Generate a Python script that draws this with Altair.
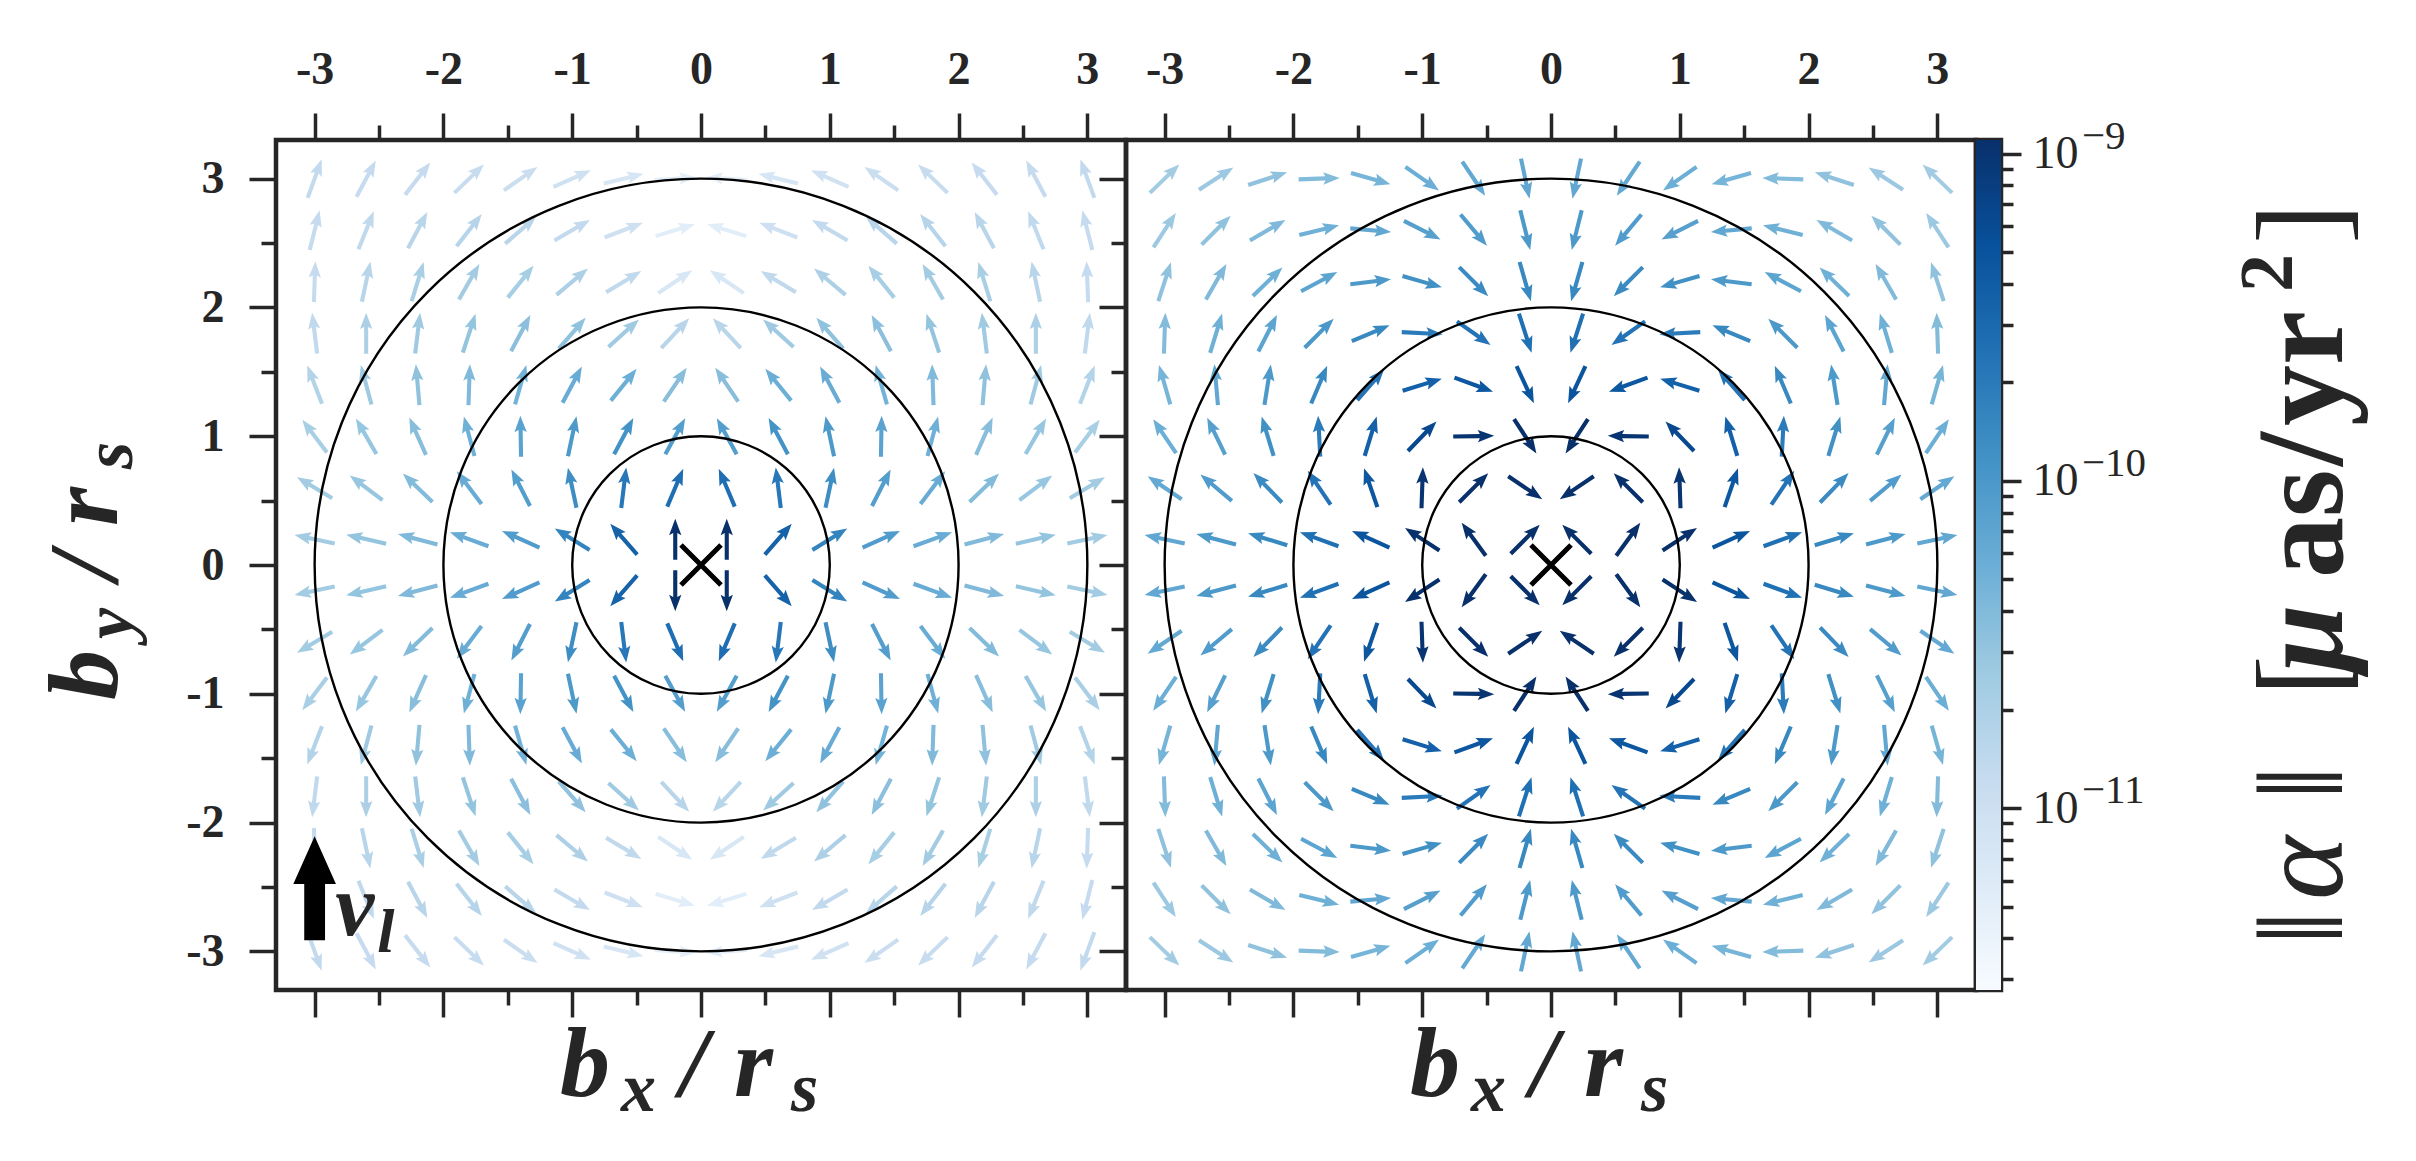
import altair as alt
import numpy as np
import pandas as pd

# ---------------- data ----------------
x_vals = [-3.0, -2.6, -2.2, -1.8, -1.4, -1.0, -0.6, -0.2, 0.2, 0.6, 1.0, 1.4, 1.8, 2.2, 2.6, 3.0]
y_vals = [3.0, 2.6, 2.2, 1.8, 1.4, 1.0, 0.6, 0.2, -0.2, -0.6, -1.0, -1.4, -1.8, -2.2, -2.6, -3.0]

# arrow direction, degrees counter-clockwise from +x (rows follow y_vals, columns x_vals)
left_angle = [
    [70, 62, 52, 44, 35, 24, 14, 4, 176, 166, 156, 145, 136, 128, 118, 110],
    [76, 68, 62, 52, 41, 30, 21, 17, 163, 159, 150, 139, 128, 118, 112, 104],
    [88, 78, 73, 60, 51, 40, 31, 34, 146, 149, 140, 129, 120, 107, 102, 92],
    [97, 90, 83, 72, 62, 49, 42, 47, 133, 138, 131, 118, 108, 97, 90, 83],
    [111, 105, 95, 88, 74, 62, 51, 56, 124, 129, 118, 106, 92, 85, 75, 69],
    [127, 120, 114, 105, 91, 78, 62, 61, 119, 118, 102, 89, 75, 66, 60, 53],
    [149, 143, 136, 127, 117, 102, 83, 67, 113, 97, 78, 63, 53, 44, 37, 31],
    [168, 167, 165, 160, 156, 148, 131, 90, 90, 49, 32, 24, 20, 15, 13, 12],
    [-168, -167, -165, -160, -156, -148, -131, -90, -90, -49, -32, -24, -20, -15, -13, -12],
    [-149, -143, -136, -127, -117, -102, -83, -67, -113, -97, -78, -63, -53, -44, -37, -31],
    [-127, -120, -114, -105, -91, -78, -62, -61, -119, -118, -102, -89, -75, -66, -60, -53],
    [-111, -105, -95, -88, -74, -62, -51, -56, -124, -129, -118, -106, -92, -85, -75, -69],
    [-97, -90, -83, -72, -62, -49, -42, -47, -133, -138, -131, -118, -108, -97, -90, -83],
    [-88, -78, -73, -60, -51, -40, -31, -34, -146, -149, -140, -129, -120, -107, -102, -92],
    [-76, -68, -62, -52, -41, -30, -21, -17, -163, -159, -150, -139, -128, -118, -112, -104],
    [-70, -62, -52, -44, -35, -24, -14, -4, -176, -166, -156, -145, -136, -128, -118, -110],
]

# log10 of ||alpha|| [muas/yr^2]
left_logmag = [
    [-10.88, -10.91, -10.91, -10.93, -10.96, -11.04, -11.12, -11.30, -11.30, -11.12, -11.04, -10.96, -10.93, -10.91, -10.91, -10.88],
    [-10.91, -10.86, -10.80, -10.78, -10.80, -10.88, -11.01, -11.27, -11.27, -11.01, -10.88, -10.80, -10.78, -10.80, -10.86, -10.91],
    [-10.91, -10.80, -10.67, -10.62, -10.65, -10.70, -10.86, -11.14, -11.14, -10.86, -10.70, -10.65, -10.62, -10.67, -10.80, -10.91],
    [-10.86, -10.70, -10.59, -10.52, -10.46, -10.49, -10.59, -10.80, -10.80, -10.59, -10.49, -10.46, -10.52, -10.59, -10.70, -10.86],
    [-10.75, -10.59, -10.49, -10.39, -10.31, -10.23, -10.26, -10.44, -10.44, -10.26, -10.23, -10.31, -10.39, -10.49, -10.59, -10.75],
    [-10.67, -10.54, -10.44, -10.28, -10.12, -10.02, -9.94, -10.07, -10.07, -9.94, -10.02, -10.12, -10.28, -10.44, -10.54, -10.67],
    [-10.62, -10.54, -10.41, -10.23, -10.07, -9.89, -9.68, -9.58, -9.58, -9.68, -9.89, -10.07, -10.23, -10.41, -10.54, -10.62],
    [-10.62, -10.52, -10.39, -10.23, -10.05, -9.79, -9.47, -8.95, -8.95, -9.47, -9.79, -10.05, -10.23, -10.39, -10.52, -10.62],
    [-10.62, -10.52, -10.39, -10.23, -10.05, -9.79, -9.47, -8.95, -8.95, -9.47, -9.79, -10.05, -10.23, -10.39, -10.52, -10.62],
    [-10.62, -10.54, -10.41, -10.23, -10.07, -9.89, -9.68, -9.58, -9.58, -9.68, -9.89, -10.07, -10.23, -10.41, -10.54, -10.62],
    [-10.67, -10.54, -10.44, -10.28, -10.12, -10.02, -9.94, -10.07, -10.07, -9.94, -10.02, -10.12, -10.28, -10.44, -10.54, -10.67],
    [-10.75, -10.59, -10.49, -10.39, -10.31, -10.23, -10.26, -10.44, -10.44, -10.26, -10.23, -10.31, -10.39, -10.49, -10.59, -10.75],
    [-10.86, -10.70, -10.59, -10.52, -10.46, -10.49, -10.59, -10.80, -10.80, -10.59, -10.49, -10.46, -10.52, -10.59, -10.70, -10.86],
    [-10.91, -10.80, -10.67, -10.62, -10.65, -10.70, -10.86, -11.14, -11.14, -10.86, -10.70, -10.65, -10.62, -10.67, -10.80, -10.91],
    [-10.91, -10.86, -10.80, -10.78, -10.80, -10.88, -11.01, -11.27, -11.27, -11.01, -10.88, -10.80, -10.78, -10.80, -10.86, -10.91],
    [-10.88, -10.91, -10.91, -10.93, -10.96, -11.04, -11.12, -11.30, -11.30, -11.12, -11.04, -10.96, -10.93, -10.91, -10.91, -10.88],
]

right_angle = [
    [44, 33, 18, 2, -16, -35, -56, -78, 258, 236, 215, 196, 178, 162, 147, 136],
    [57, 45, 30, 14, -5, -27, -50, -76, 256, 230, 207, 185, 166, 150, 135, 123],
    [72, 60, 44, 28, 7, -16, -45, -74, 254, 225, 196, 173, 152, 136, 120, 108],
    [88, 73, 63, 45, 23, -3, -35, -72, 252, 215, 183, 157, 135, 117, 107, 92],
    [106, 95, 81, 67, 49, 17, -20, -65, 245, 200, 163, 131, 113, 99, 85, 74],
    [124, 116, 107, 93, 73, 46, 1, -57, 237, 179, 134, 107, 87, 73, 64, 56],
    [146, 140, 134, 124, 109, 88, 45, -34, 214, 135, 92, 71, 56, 46, 40, 34],
    [168, 165, 163, 160, 156, 147, 126, 45, 135, 54, 33, 24, 20, 17, 15, 12],
    [-168, -165, -163, -160, -156, -147, -126, -45, -135, -54, -33, -24, -20, -17, -15, -12],
    [-146, -140, -134, -124, -109, -88, -45, 34, -214, -135, -92, -71, -56, -46, -40, -34],
    [-124, -116, -107, -93, -73, -46, -1, 57, -237, -179, -134, -107, -87, -73, -64, -56],
    [-106, -95, -81, -67, -49, -17, 20, 65, -245, -200, -163, -131, -113, -99, -85, -74],
    [-88, -73, -63, -45, -23, 3, 35, 72, -252, -215, -183, -157, -135, -117, -107, -92],
    [-72, -60, -44, -28, -7, 16, 45, 74, -254, -225, -196, -173, -152, -136, -120, -108],
    [-57, -45, -30, -14, 5, 27, 50, 76, -256, -230, -207, -185, -166, -150, -135, -123],
    [-44, -33, -18, -2, 16, 35, 56, 78, -258, -236, -215, -196, -178, -162, -147, -136],
]

right_logmag = [
    [-10.62, -10.57, -10.49, -10.41, -10.33, -10.26, -10.20, -10.18, -10.18, -10.20, -10.26, -10.33, -10.41, -10.49, -10.57, -10.62],
    [-10.57, -10.49, -10.39, -10.28, -10.18, -10.10, -10.05, -10.02, -10.02, -10.05, -10.10, -10.18, -10.28, -10.39, -10.49, -10.57],
    [-10.49, -10.39, -10.28, -10.15, -10.02, -9.92, -9.86, -9.84, -9.84, -9.86, -9.92, -10.02, -10.15, -10.28, -10.39, -10.49],
    [-10.41, -10.28, -10.15, -10.00, -9.84, -9.71, -9.63, -9.60, -9.60, -9.63, -9.71, -9.84, -10.00, -10.15, -10.28, -10.41],
    [-10.33, -10.18, -10.02, -9.84, -9.63, -9.45, -9.34, -9.32, -9.32, -9.34, -9.45, -9.63, -9.84, -10.02, -10.18, -10.33],
    [-10.26, -10.10, -9.92, -9.71, -9.45, -9.19, -9.00, -8.95, -8.95, -9.00, -9.19, -9.45, -9.71, -9.92, -10.10, -10.26],
    [-10.20, -10.05, -9.86, -9.63, -9.34, -9.00, -8.95, -8.95, -8.95, -8.95, -9.00, -9.34, -9.63, -9.86, -10.05, -10.20],
    [-10.18, -10.02, -9.84, -9.60, -9.32, -8.95, -8.95, -8.95, -8.95, -8.95, -8.95, -9.32, -9.60, -9.84, -10.02, -10.18],
    [-10.18, -10.02, -9.84, -9.60, -9.32, -8.95, -8.95, -8.95, -8.95, -8.95, -8.95, -9.32, -9.60, -9.84, -10.02, -10.18],
    [-10.20, -10.05, -9.86, -9.63, -9.34, -9.00, -8.95, -8.95, -8.95, -8.95, -9.00, -9.34, -9.63, -9.86, -10.05, -10.20],
    [-10.26, -10.10, -9.92, -9.71, -9.45, -9.19, -9.00, -8.95, -8.95, -9.00, -9.19, -9.45, -9.71, -9.92, -10.10, -10.26],
    [-10.33, -10.18, -10.02, -9.84, -9.63, -9.45, -9.34, -9.32, -9.32, -9.34, -9.45, -9.63, -9.84, -10.02, -10.18, -10.33],
    [-10.41, -10.28, -10.15, -10.00, -9.84, -9.71, -9.63, -9.60, -9.60, -9.63, -9.71, -9.84, -10.00, -10.15, -10.28, -10.41],
    [-10.49, -10.39, -10.28, -10.15, -10.02, -9.92, -9.86, -9.84, -9.84, -9.86, -9.92, -10.02, -10.15, -10.28, -10.39, -10.49],
    [-10.57, -10.49, -10.39, -10.28, -10.18, -10.10, -10.05, -10.02, -10.02, -10.05, -10.10, -10.18, -10.28, -10.39, -10.49, -10.57],
    [-10.62, -10.57, -10.49, -10.41, -10.33, -10.26, -10.20, -10.18, -10.18, -10.20, -10.26, -10.33, -10.41, -10.49, -10.57, -10.62],
]

ring_radii = [1, 2, 3]
lens_x, lens_y = [0.0], [0.0]
vl_arrow_x, vl_arrow_y = [-3.0], [-2.51]
vl_label_x, vl_label_y = [-2.84], [-2.87]
cbar_min, cbar_max = 2.78e-12, 1.10e-9
cbar_decades = [1e-11, 1e-10, 1e-9]
cbar_exponents = ["−11", "−10", "−9"]
major_ticks = [-3, -2, -1, 0, 1, 2, 3]
minor_ticks = [-2.5, -1.5, -0.5, 0.5, 1.5, 2.5]

# ---------------- style ----------------
W, H = 850, 850
CBW = 25
DOM = [-3.3, 3.3]
INK = "#262626"
SERIF = "Liberation Serif"
BLUES = ["#f7fbff", "#deebf7", "#c6dbef", "#9ecae1", "#6baed6",
         "#4292c6", "#2171b5", "#08519c", "#08306b"]
ARROW = "M -1 -0.1 L 0.3 -0.1 L 0.2 -0.3 L 1 0 L 0.2 0.3 L 0.3 0.1 L -1 0.1 Z"
UPARROW = "M -0.2 1 L -0.2 -0.08 L -0.41 -0.08 L 0 -1 L 0.41 -0.08 L 0.2 -0.08 L 0.2 1 Z"
CROSS = "M -1 -1 L 1 1 M -1 1 L 1 -1"

xs = alt.Scale(domain=DOM, nice=False, zero=False)
ys = alt.Scale(domain=DOM, nice=False, zero=False)
color_scale = alt.Scale(type="log", domain=list(np.geomspace(cbar_min, cbar_max, len(BLUES))),
                        range=BLUES, interpolate="rgb", clamp=True)
cb_scale = alt.Scale(type="log", domain=[cbar_min, cbar_max], nice=False)

lab_expr = "datum.value % 1 != 0 ? '' : (datum.value < 0 ? '-' + abs(datum.value) : '' + datum.value)"
tick_size = {"condition": {"test": "datum.value % 1 == 0", "value": 27}, "value": 15}


def axis(orient, labels=True):
    return alt.Axis(orient=orient, values=sorted(major_ticks + minor_ticks), labels=labels,
                    labelExpr=lab_expr, tickSize=tick_size, tickWidth=3.5, tickColor=INK,
                    domain=False, grid=False, title=None, labelFont=SERIF,
                    labelFontWeight="bold", labelFontSize=46, labelColor=INK,
                    labelPadding=20 if orient in ("top", "bottom") else 25,
                    labelOverlap=False, labelFlush=False)


one = pd.DataFrame({"k": [0]})


def piece(s, x, y, size, angle=0, italic=True, bold=True):
    return alt.Chart(one).mark_text(
        text=s, font=SERIF, fontSize=size, fontStyle="italic" if italic else "normal",
        fontWeight="bold" if bold else "normal", align="left", baseline="alphabetic",
        angle=angle, color=INK).encode(x=alt.value(x), y=alt.value(y))


def x_title(x0, y0):
    return [piece("b", x0, y0, 100), piece("x", x0 + 61, y0 + 15, 70),
            piece("/", x0 + 120, y0, 100), piece("r", x0 + 174, y0, 100),
            piece("s", x0 + 231, y0 + 15, 70)]


def y_title(x0, y0):
    return [piece("b", x0, y0, 100, 270), piece("y", x0 + 15, y0 - 61, 70, 270),
            piece("/", x0, y0 - 120, 100, 270), piece("r", x0, y0 - 174, 100, 270),
            piece("s", x0 + 15, y0 - 231, 70, 270)]


def field_frame(angles, logmags):
    rows = []
    for i, yv in enumerate(y_vals):
        for j, xv in enumerate(x_vals):
            rows.append({"x": xv, "y": yv, "deg": angles[i][j], "mag": 10 ** logmags[i][j]})
    return pd.DataFrame(rows)


def panel(angles, logmags, left_labels, extra):
    arrows = alt.Chart(field_frame(angles, logmags)).transform_calculate(
        rot="(360 - datum.deg) % 360"
    ).mark_point(shape=ARROW, filled=True, size=1681, opacity=1, strokeWidth=0).encode(
        x=alt.X("x:Q", scale=xs, axis=axis("top")),
        y=alt.Y("y:Q", scale=ys, axis=axis("left", left_labels)),
        angle=alt.Angle("rot:Q", scale=None),
        color=alt.Color("mag:Q", scale=color_scale, legend=None),
    )
    rings = alt.Chart(pd.DataFrame({"cx": [0.0] * 3, "cy": [0.0] * 3, "r": ring_radii})).mark_point(
        shape="circle", filled=False, color="black", strokeWidth=2.4, opacity=1
    ).encode(
        x=alt.X("cx:Q", scale=xs, axis=axis("bottom", False)),
        y=alt.Y("cy:Q", scale=ys, axis=None),
        size=alt.Size("r:Q", scale=alt.Scale(type="pow", exponent=2, domain=[0, DOM[1]], range=[0, W * W]),
                      legend=None),
    )
    lens = alt.Chart(pd.DataFrame({"x": lens_x, "y": lens_y})).mark_point(
        shape=CROSS, filled=False, color="black", strokeWidth=5, size=1600, opacity=1
    ).encode(x=alt.X("x:Q", scale=xs, axis=None), y=alt.Y("y:Q", scale=ys, axis=None))
    layers = [arrows, rings, lens] + extra + x_title(284, 956)
    return alt.layer(*layers).resolve_axis(x="independent", y="independent").properties(width=W, height=H)


# invisible layout anchor: fixes where the plot area sits on the page
anchor = alt.Chart(one).mark_rule(opacity=0, strokeWidth=1).encode(
    x=alt.value(-264), x2=alt.value(-264), y=alt.value(-128), y2=alt.value(-127))

vl_arrow = alt.Chart(pd.DataFrame({"x": vl_arrow_x, "y": vl_arrow_y})).mark_point(
    shape=UPARROW, filled=True, color="black", size=104 * 104, opacity=1, strokeWidth=0
).encode(x=alt.X("x:Q", scale=xs, axis=None), y=alt.Y("y:Q", scale=ys, axis=None))
vl_v = alt.Chart(pd.DataFrame({"x": vl_label_x, "y": vl_label_y})).mark_text(
    text="v", font=SERIF, fontSize=88, fontStyle="italic", fontWeight="bold", align="left",
    baseline="alphabetic", color=INK
).encode(x=alt.X("x:Q", scale=xs, axis=None), y=alt.Y("y:Q", scale=ys, axis=None))
vl_l = alt.Chart(pd.DataFrame({"x": vl_label_x, "y": vl_label_y})).mark_text(
    text="l", font=SERIF, fontSize=62, fontStyle="italic", fontWeight="bold", align="left",
    baseline="alphabetic", dx=42, dy=17, color=INK
).encode(x=alt.X("x:Q", scale=xs, axis=None), y=alt.Y("y:Q", scale=ys, axis=None))

left = panel(left_angle, left_logmag, True, [anchor, vl_arrow, vl_v, vl_l] + y_title(-159, 560))
right = panel(right_angle, right_logmag, False, [])

cb_ticks = [m * 10.0 ** e for e in (-12, -11, -10, -9) for m in range(1, 10)]
cb_ticks = [t for t in cb_ticks if cbar_min <= t <= cbar_max]
is_major = "abs(log(datum.value) / LN10 - round(log(datum.value) / LN10)) < 0.001"
cb_axis = alt.Axis(orient="right", values=cb_ticks, labelExpr=is_major + " ? '10' : ''",
                   tickSize={"condition": {"test": is_major, "value": 20}, "value": 12},
                   tickWidth=3.5, tickColor=INK, domain=False, grid=False, title=None,
                   labelFont=SERIF, labelFontSize=46, labelColor=INK,
                   labelPadding=11, labelOverlap=False, labelFlush=False, labelBaseline="middle")
cbar_rect = alt.Chart(pd.DataFrame({"lo": [cbar_min], "hi": [cbar_max]})).mark_rect(
    color=alt.LinearGradient(gradient="linear",
                             stops=[alt.GradientStop(color=c, offset=i / (len(BLUES) - 1)) for i, c in enumerate(BLUES)],
                             x1=0, x2=0, y1=1, y2=0)
).encode(
    x=alt.value(0), x2=alt.value(CBW),
    y=alt.Y("lo:Q", scale=cb_scale, axis=cb_axis),
    y2="hi:Q",
)
# exponents of the colour-bar tick labels (10^-11, 10^-10, 10^-9)
cbar_sup = alt.Chart(pd.DataFrame({"v": cbar_decades, "e": cbar_exponents})).mark_text(
    font=SERIF, fontSize=41, align="left", baseline="middle", dy=-17, color=INK
).encode(x=alt.value(CBW + 20 + 11 + 50), y=alt.Y("v:Q", scale=cb_scale, axis=None), text="e:N")

# colour-bar label: ||alpha|| [muas/yr^2], written bottom-to-top
BX = 366
FS = 122
cb_title = [
    piece("‖", BX, 805, FS, 270, italic=False, bold=False),
    piece("α", BX, 760, FS, 270, italic=True, bold=False),
    piece("‖", BX, 660, FS, 270, italic=False, bold=False),
    piece("[", BX, 556, FS, 270, italic=False, bold=False),
    piece("μ", BX, 532, FS, 270, italic=True, bold=True),
    piece("as", BX, 438, FS, 270, italic=False, bold=True),
    piece("/", BX, 326, FS, 270, italic=False, bold=True),
    piece("yr", BX, 286, FS, 270, italic=False, bold=True),
    piece("2", BX - 50, 152, 76, 270, italic=False, bold=True),
    piece("]", BX, 104, FS, 270, italic=False, bold=False),
]
cbar = alt.layer(cbar_rect, cbar_sup, *cb_title).resolve_axis(y="independent").properties(width=CBW, height=H)

chart = alt.hconcat(left, right, cbar, spacing=0, bounds="flush").properties(
    padding={"left": 1, "top": 1, "right": 10, "bottom": 10}, background="white"
).configure_view(stroke=INK, strokeWidth=4.5)

chart.save("out.html", embed_options={"renderer": "svg", "actions": False})
